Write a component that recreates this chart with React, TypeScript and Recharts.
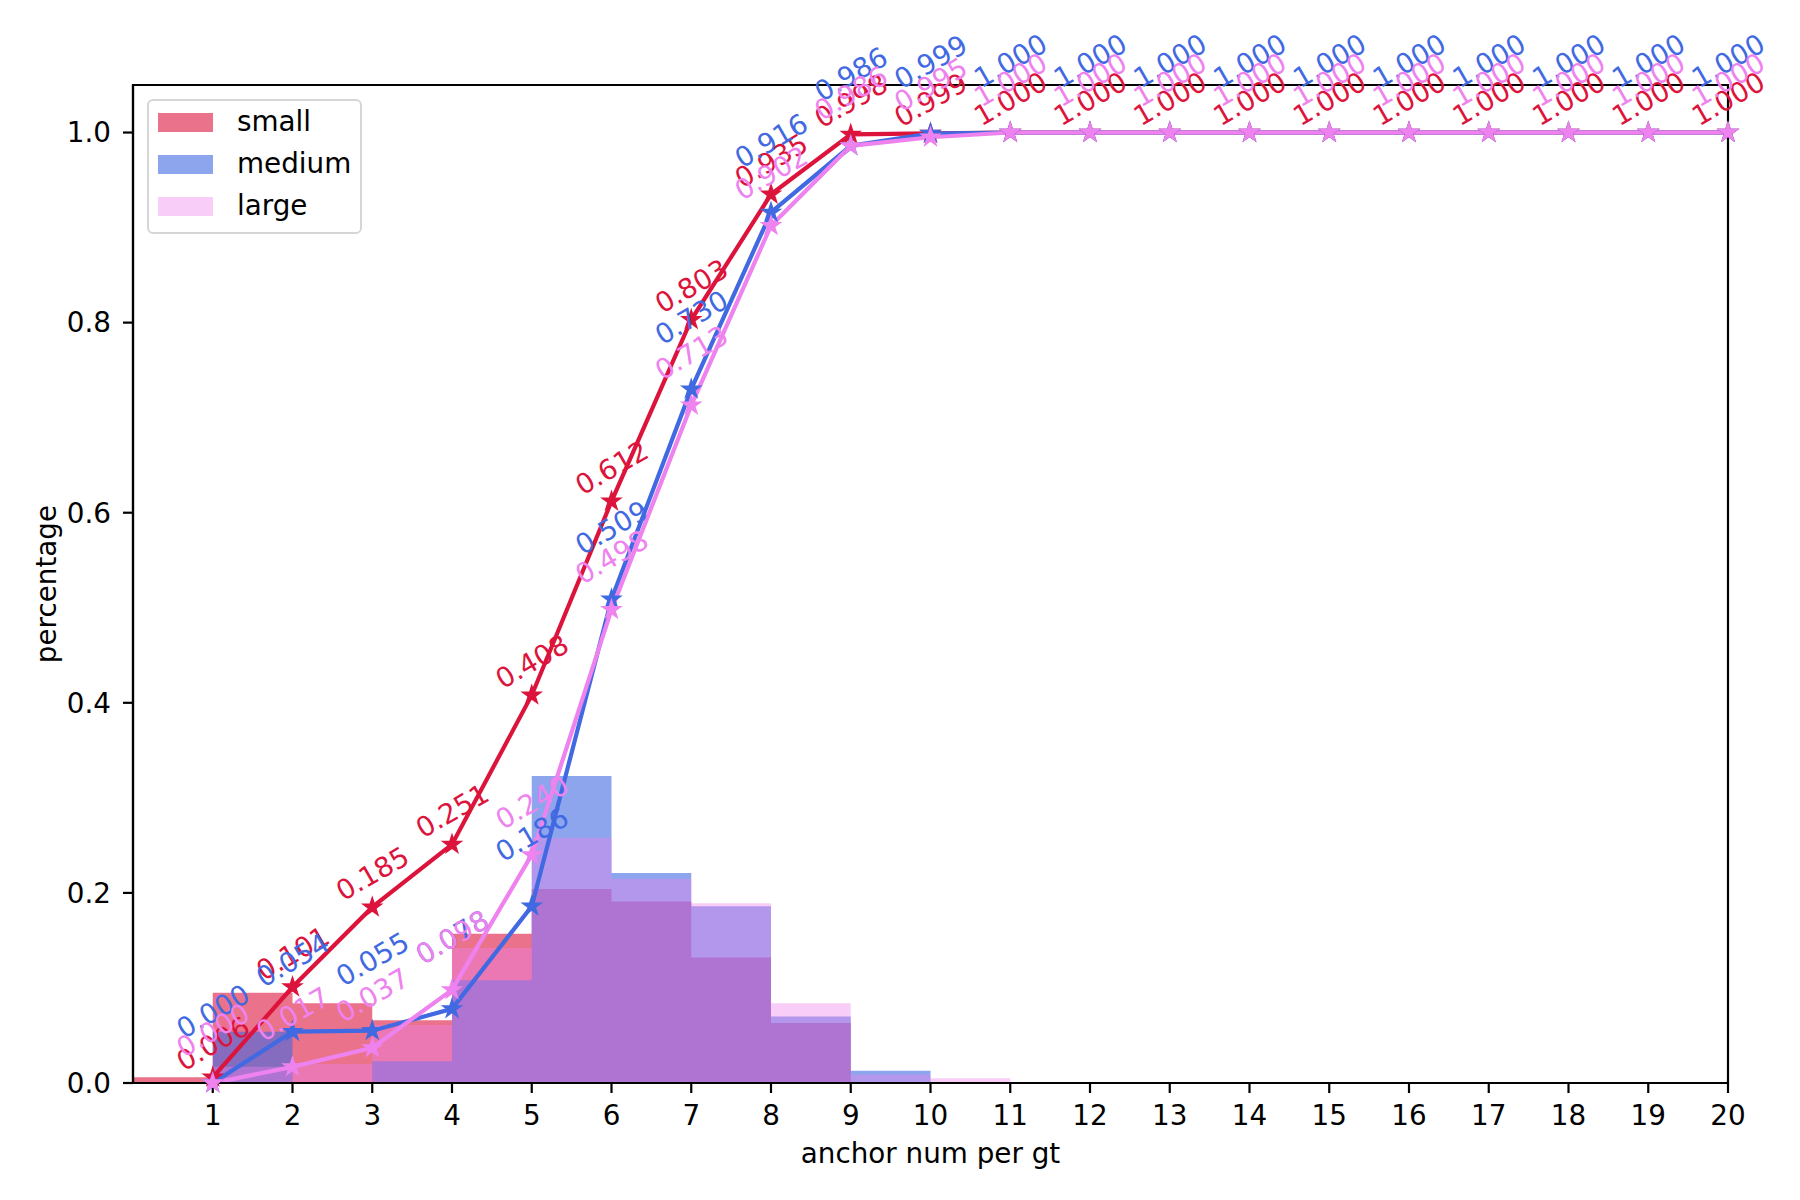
import React from "react";
import {
  Area,
  ComposedChart,
  Label,
  LabelList,
  Legend,
  Line,
  ReferenceArea,
  XAxis,
  YAxis,
} from "recharts";

const FONT = "DejaVu Sans";
const FS = 27.8;
const LABEL_FS = 27.5;

// x positions: bin left edges for the histogram, anchor counts for the curves
const anchorNums = [0, 1, 2, 3, 4, 5, 6, 7, 8, 9, 10, 11, 12, 13, 14, 15, 16, 17, 18, 19, 20];
const xTicks = [1, 2, 3, 4, 5, 6, 7, 8, 9, 10, 11, 12, 13, 14, 15, 16, 17, 18, 19, 20];
const yTicks = [0, 0.2, 0.4, 0.6, 0.8, 1.0];

const seriesNames = ["small", "medium", "large"];
const colors = ["crimson", "royalblue", "violet"];
const histAlpha = [0.6, 0.6, 0.4];

// histogram bin [k, k+1) heights
const smallHist = [0.006, 0.095, 0.084, 0.066, 0.157, 0.204, 0.191, 0.132, 0.063, 0.001, 0.001, 0, 0, 0, 0, 0, 0, 0, 0, 0, 0];
const mediumHist = [0, 0.054, 0.001, 0.023, 0.108, 0.323, 0.221, 0.186, 0.07, 0.013, 0.001, 0, 0, 0, 0, 0, 0, 0, 0, 0, 0];
const largeHist = [0, 0.017, 0.02, 0.061, 0.142, 0.258, 0.215, 0.189, 0.084, 0.009, 0.005, 0, 0, 0, 0, 0, 0, 0, 0, 0, 0];

// cumulative percentage at each anchor num
const smallCum = [null, 0.006, 0.101, 0.185, 0.251, 0.408, 0.612, 0.803, 0.935, 0.998, 0.999, 1, 1, 1, 1, 1, 1, 1, 1, 1, 1];
const mediumCum = [null, 0.0, 0.054, 0.055, 0.078, 0.186, 0.509, 0.73, 0.916, 0.986, 0.999, 1, 1, 1, 1, 1, 1, 1, 1, 1, 1];
const largeCum = [null, 0.0, 0.017, 0.037, 0.098, 0.24, 0.498, 0.713, 0.902, 0.986, 0.995, 1, 1, 1, 1, 1, 1, 1, 1, 1, 1];

const data = anchorNums.map((n, i) => ({
  n,
  smallHist: smallHist[i],
  mediumHist: mediumHist[i],
  largeHist: largeHist[i],
  smallCum: smallCum[i],
  mediumCum: mediumCum[i],
  largeCum: largeCum[i],
}));

const histKeys = ["smallHist", "mediumHist", "largeHist"];
const cumKeys = ["smallCum", "mediumCum", "largeCum"];
// extra lift of the value labels (px) so the three series don't sit on each other
const labelLift = [0, 38, 19];

const starDot = (color: string) => (props: any) => {
  const { cx, cy, index } = props;
  if (cx == null || cy == null || isNaN(cy)) return <g key={index} />;
  const R = 9.5;
  const r = R * 0.382;
  const pts: string[] = [];
  for (let k = 0; k < 10; k++) {
    const a = -Math.PI / 2 + (k * Math.PI) / 5;
    const rad = k % 2 === 0 ? R : r;
    pts.push(`${cx + rad * Math.cos(a)},${cy + rad * Math.sin(a)}`);
  }
  return <polygon key={index} points={pts.join(" ")} fill={color} stroke={color} strokeWidth={1.5} />;
};

const valueLabel = (color: string, lift: number) => (props: any) => {
  const { value, index } = props;
  if (value == null) return null;
  const x = props.viewBox?.x ?? props.x;
  const y = props.viewBox?.y ?? props.y;
  const cy = y - 34 - lift;
  return (
    <text
      key={index}
      x={x}
      y={cy}
      transform={`rotate(-30 ${x} ${cy})`}
      textAnchor="middle"
      dominantBaseline="central"
      fill={color}
      fontSize={LABEL_FS}
      fontFamily={FONT}
    >
      {Number(value).toFixed(3)}
    </text>
  );
};

const renderLegend = () => (
  <div
    style={{
      position: "relative",
      width: 215,
      height: 135,
      boxSizing: "border-box",
      border: "2px solid #d6d6d6",
      borderRadius: 6,
      background: "rgba(255,255,255,0.8)",
      fontFamily: FONT,
      fontSize: FS,
      color: "#000",
    }}
  >
    {seriesNames.map((name, i) => (
      <div key={name}>
        <div
          style={{
            position: "absolute",
            left: 9,
            top: 12 + i * 42,
            width: 55,
            height: 19,
            background: colors[i],
            opacity: histAlpha[i],
          }}
        />
        <div
          style={{
            position: "absolute",
            left: 88,
            top: 21 + i * 42,
            transform: "translateY(-50%)",
            lineHeight: 1,
          }}
        >
          {name}
        </div>
      </div>
    ))}
  </div>
);

const tickStyle = { fill: "#000", fontSize: FS, fontFamily: FONT };

export default function App() {
  return (
    <div style={{ position: "absolute", left: 0, top: 0, width: 1800, height: 1200, background: "#fff" }}>
      <ComposedChart
        width={1800}
        height={1200}
        data={data}
        margin={{ top: 85, right: 72, bottom: 57, left: 53 }}
      >
        <XAxis
          dataKey="n"
          type="number"
          domain={[0, 20]}
          ticks={xTicks}
          interval={0}
          height={60}
          tick={tickStyle}
          tickSize={10}
          tickMargin={12}
          axisLine={{ stroke: "#000", strokeWidth: 2.2 }}
          tickLine={{ stroke: "#000", strokeWidth: 2.2 }}
        >
          <Label
            content={(p: any) => {
              const vb = p.viewBox;
              return (
                <text
                  x={vb.x + vb.width / 2}
                  y={vb.y + 80}
                  textAnchor="middle"
                  fontSize={FS}
                  fontFamily={FONT}
                  fill="#000"
                >
                  anchor num per gt
                </text>
              );
            }}
          />
        </XAxis>
        <YAxis
          type="number"
          domain={[0, 1.05]}
          ticks={yTicks}
          width={80}
          tick={tickStyle}
          tickSize={10}
          tickMargin={12}
          tickFormatter={(v: number) => v.toFixed(1)}
          axisLine={{ stroke: "#000", strokeWidth: 2.2 }}
          tickLine={{ stroke: "#000", strokeWidth: 2.2 }}
        >
          <Label
            content={(p: any) => {
              const vb = p.viewBox;
              const x = vb.x - 7;
              const y = vb.y + vb.height / 2;
              return (
                <text
                  x={x}
                  y={y}
                  transform={`rotate(-90 ${x} ${y})`}
                  textAnchor="middle"
                  dominantBaseline="central"
                  fontSize={FS}
                  fontFamily={FONT}
                  fill="#000"
                >
                  percentage
                </text>
              );
            }}
          />
        </YAxis>

        {histKeys.map((k, i) => (
          <Area
            key={k}
            dataKey={k}
            name={seriesNames[i]}
            type="stepAfter"
            stroke="none"
            fill={colors[i]}
            fillOpacity={histAlpha[i]}
            isAnimationActive={false}
            dot={false}
            activeDot={false}
          />
        ))}

        {cumKeys.map((k, i) => (
          <Line
            key={k}
            dataKey={k}
            stroke={colors[i]}
            strokeWidth={4.2}
            dot={starDot(colors[i])}
            activeDot={false}
            legendType="none"
            isAnimationActive={false}
          />
        ))}

        {cumKeys.map((k, i) => (
          <Line
            key={k + "-labels"}
            dataKey={k}
            stroke="none"
            dot={false}
            activeDot={false}
            legendType="none"
            isAnimationActive={false}
          >
            <LabelList dataKey={k} content={valueLabel(colors[i], labelLift[i])} />
          </Line>
        ))}

        <ReferenceArea x1={0} x2={20} y1={0} y2={1.05} fill="none" stroke="#000" strokeWidth={2.2} />

        <Legend
          content={renderLegend}
          layout="vertical"
          align="center"
          verticalAlign="middle"
          wrapperStyle={{ left: 147, top: 99, width: 215, height: 135 }}
        />
      </ComposedChart>
    </div>
  );
}
